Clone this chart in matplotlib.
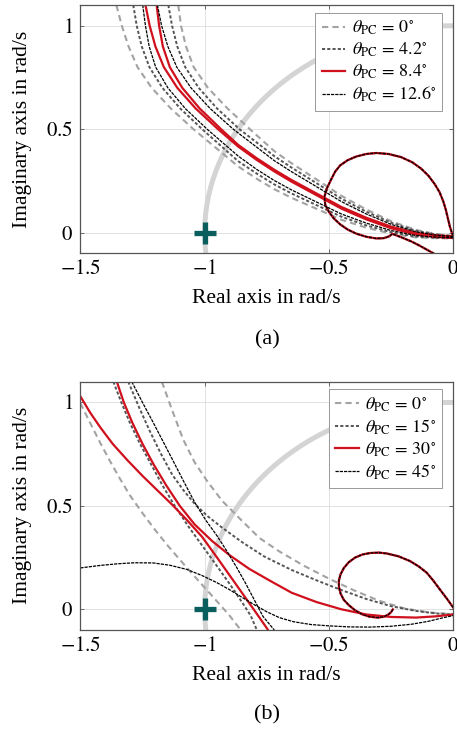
import numpy as np
import matplotlib
matplotlib.use("Agg")
import matplotlib.pyplot as plt

plt.rcParams["font.family"] = ["Liberation Serif", "DejaVu Serif"]
plt.rcParams["mathtext.fontset"] = "stix"

# ---- panel (a): theta_PC = 0, 4.2, 8.4, 12.6 deg ----
labels_a = ["0", "4.2", "8.4", "12.6"]

a0_up_x = [-1.106, -1.095, -1.075, -1.044, -0.987, -0.908, -0.818,
           -0.72, -0.65, -0.55, -0.45, -0.35, -0.25, -0.15, -0.07, 0.0]
a0_up_y = [1.1, 1.0, 0.9, 0.8, 0.7, 0.6, 0.5,
           0.394, 0.335, 0.257, 0.178, 0.112, 0.055, 0.013, -0.007, -0.016]
a0_lo_x = [-1.355, -1.333, -1.306, -1.27, -1.213, -1.136, -1.045,
           -0.865, -0.79, -0.72, -0.65, -0.55, -0.45, -0.35, -0.25, -0.15, -0.07, 0.0]
a0_lo_y = [1.1, 1.0, 0.9, 0.8, 0.7, 0.6, 0.5,
           0.32, 0.26, 0.21, 0.168, 0.115, 0.062, 0.024, -0.005, -0.023, -0.027, -0.028]

a1_up_x = [-1.146, -1.131, -1.11, -1.078, -1.024, -0.95, -0.86,
           -0.72, -0.65, -0.55, -0.45, -0.35, -0.25, -0.15, -0.07, 0.0]
a1_up_y = [1.1, 1.0, 0.9, 0.8, 0.7, 0.6, 0.5,
           0.37, 0.314, 0.239, 0.164, 0.101, 0.048, 0.009, -0.009, -0.018]
a1_lo_x = [-1.287, -1.273, -1.253, -1.222, -1.17, -1.098, -1.01,
           -0.865, -0.79, -0.72, -0.65, -0.55, -0.45, -0.35, -0.25, -0.15, -0.07, 0.0]
a1_lo_y = [1.1, 1.0, 0.9, 0.8, 0.7, 0.6, 0.5,
           0.345, 0.285, 0.233, 0.189, 0.133, 0.077, 0.035, 0.002, -0.019, -0.025, -0.026]

a2_up_x = [-1.193, -1.183, -1.168, -1.14, -1.09, -1.02, -0.934,
           -0.865, -0.79, -0.72, -0.65, -0.55, -0.45, -0.35, -0.25, -0.15, -0.07, 0.0]
a2_up_y = [1.1, 1.0, 0.9, 0.8, 0.7, 0.6, 0.5,
           0.424, 0.359, 0.304, 0.254, 0.189, 0.124, 0.072, 0.029, -0.001, -0.013, -0.018]
a2_lo_x = [-1.238, -1.221, -1.198, -1.164, -1.11, -1.036, -0.946,
           -0.865, -0.79, -0.72, -0.65, -0.55, -0.45, -0.35, -0.25, -0.15, -0.07, 0.0]
a2_lo_y = [1.1, 1.0, 0.9, 0.8, 0.7, 0.6, 0.5,
           0.416, 0.351, 0.296, 0.246, 0.181, 0.116, 0.064, 0.021, -0.009, -0.021, -0.026]

a3_up_x = [-1.19, -1.173, -1.148, -1.112, -1.055, -0.978, -0.885,
           -0.72, -0.65, -0.55, -0.45, -0.35, -0.25, -0.15, -0.07, 0.0]
a3_up_y = [1.1, 1.0, 0.9, 0.8, 0.7, 0.6, 0.5,
           0.348, 0.294, 0.222, 0.15, 0.09, 0.04, 0.004, -0.012, -0.019]
a3_lo_x = [-1.249, -1.238, -1.223, -1.197, -1.148, -1.078, -0.99,
           -0.865, -0.79, -0.72, -0.65, -0.55, -0.45, -0.35, -0.25, -0.15, -0.07, 0.0]
a3_lo_y = [1.1, 1.0, 0.9, 0.8, 0.7, 0.6, 0.5,
           0.37, 0.305, 0.252, 0.206, 0.148, 0.09, 0.046, 0.01, -0.014, -0.022, -0.025]

loop_a_x = [0.0, -0.006, -0.014, -0.022, -0.03, -0.04, -0.055, -0.075, -0.1, -0.13,
            -0.165, -0.21, -0.26, -0.31, -0.35, -0.39, -0.425, -0.455, -0.475, -0.49,
            -0.508, -0.518, -0.515, -0.5, -0.48, -0.455, -0.425, -0.39, -0.35, -0.31,
            -0.28, -0.258, -0.245, -0.225, -0.2, -0.17, -0.14, -0.11, -0.08]
loop_a_y = [-0.016, 0.0, 0.03, 0.07, 0.11, 0.15, 0.195, 0.235, 0.275, 0.31,
            0.34, 0.365, 0.38, 0.385, 0.38, 0.368, 0.35, 0.325, 0.295, 0.26,
            0.215, 0.175, 0.135, 0.1, 0.068, 0.04, 0.015, -0.005, -0.02, -0.028,
            -0.027, -0.018, -0.006, -0.015, -0.027, -0.042, -0.06, -0.08, -0.1]

# ---- panel (b): theta_PC = 0, 15, 30, 45 deg ----
labels_b = ["0", "15", "30", "45"]

b0_up_x = [-1.172, -1.13, -1.086, -1.04, -0.99, -0.93, -0.86, -0.78, -0.7, -0.6,
           -0.5, -0.4, -0.3, -0.2, -0.1, 0.0]
b0_up_y = [1.1, 0.96, 0.82, 0.71, 0.62, 0.525, 0.44, 0.345, 0.28, 0.21,
           0.148, 0.092, 0.042, 0.005, -0.015, -0.024]
b0_lo_x = [-1.5, -1.46, -1.42, -1.38, -1.34, -1.3, -1.25, -1.2, -1.15, -1.1,
           -1.05, -1.0, -0.95, -0.9, -0.855]
b0_lo_y = [0.997, 0.9, 0.805, 0.715, 0.63, 0.55, 0.465, 0.385, 0.31, 0.24,
           0.172, 0.105, 0.038, -0.03, -0.1]

b1_up_x = [-1.307, -1.265, -1.22, -1.175, -1.13, -1.085, -1.04, -0.99, -0.93, -0.85,
           -0.76, -0.65, -0.55, -0.45, -0.35, -0.25, -0.15, -0.07, 0.0]
b1_up_y = [1.1, 0.98, 0.86, 0.75, 0.65, 0.575, 0.51, 0.452, 0.395, 0.325,
           0.255, 0.19, 0.14, 0.093, 0.05, 0.015, -0.008, -0.02, -0.025]
b1_lo_x = [-1.367, -1.335, -1.3, -1.26, -1.215, -1.17, -1.12, -1.065, -1.005, -0.945,
           -0.895, -0.85, -0.815, -0.79]
b1_lo_y = [1.1, 1.0, 0.9, 0.8, 0.7, 0.6, 0.5, 0.4, 0.3, 0.2,
           0.115, 0.035, -0.03, -0.1]

b2_up_x = [-1.353, -1.325, -1.29, -1.25, -1.205, -1.155, -1.1, -1.04, -0.97, -0.898,
           -0.82, -0.74, -0.65, -0.55, -0.45, -0.35, -0.25, -0.15, -0.07, 0.0]
b2_up_y = [1.1, 1.0, 0.9, 0.8, 0.7, 0.6, 0.5, 0.41, 0.33, 0.26,
           0.195, 0.14, 0.08, 0.035, 0.0, -0.025, -0.037, -0.04, -0.034, -0.025]
b2_lo_x = [-1.5, -1.46, -1.42, -1.37, -1.31, -1.25, -1.19, -1.13, -1.07, -1.01,
           -0.95, -0.9, -0.85, -0.8, -0.765, -0.745]
b2_lo_y = [1.03, 0.95, 0.88, 0.8, 0.72, 0.645, 0.575, 0.505, 0.43, 0.35,
           0.25, 0.165, 0.08, -0.005, -0.065, -0.1]

b3_up_x = [-1.293, -1.25, -1.21, -1.171, -1.13, -1.085, -1.039, -0.995, -0.95, -0.91,
           -0.87, -0.835, -0.8, -0.765, -0.72]
b3_up_y = [1.1, 1.0, 0.91, 0.82, 0.725, 0.62, 0.515, 0.43, 0.355, 0.28,
           0.2, 0.125, 0.045, -0.035, -0.1]
b3_lo_x = [-1.5, -1.42, -1.35, -1.28, -1.206, -1.14, -1.072, -1.01, -0.951, -0.9,
           -0.858, -0.8, -0.75, -0.7, -0.643, -0.57, -0.5, -0.42, -0.335, -0.25,
           -0.167, -0.1, -0.045, 0.0]
b3_lo_y = [0.2, 0.212, 0.22, 0.225, 0.224, 0.213, 0.193, 0.163, 0.129, 0.095,
           0.064, 0.022, -0.012, -0.04, -0.06, -0.074, -0.08, -0.085, -0.086, -0.082,
           -0.072, -0.058, -0.042, -0.03]

loop_b_x = [0.0, -0.025, -0.054, -0.08, -0.107, -0.14, -0.174, -0.22, -0.268, -0.3,
            -0.335, -0.365, -0.395, -0.42, -0.44, -0.453, -0.46, -0.46, -0.453, -0.44,
            -0.42, -0.395, -0.365, -0.335, -0.305, -0.28, -0.262, -0.25, -0.243]
loop_b_y = [0.008, 0.05, 0.096, 0.138, 0.177, 0.208, 0.233, 0.256, 0.27, 0.274,
            0.272, 0.265, 0.25, 0.228, 0.2, 0.17, 0.14, 0.108, 0.075, 0.045,
            0.02, -0.005, -0.025, -0.036, -0.04, -0.036, -0.026, -0.014, 0.0]

styles = [
    dict(color="#a3a3a3", lw=1.5, dashes=(3, 2)),
    dict(color="#555555", lw=1.4, dashes=(1.6, 1.1)),
    dict(color="#d0101c", lw=1.6),
    dict(color="black", lw=0.9, dashes=(2.6, 0.8)),
]


def draw_panel(ax, curves, loop_x, loop_y, labels, leg_top):
    # unit circle reference
    ang = np.linspace(np.pi / 2, np.pi + 0.101, 200)
    ax.plot(np.cos(ang), np.sin(ang), color="#d4d4d4", lw=3.6, solid_capstyle="butt", zorder=1)

    for (up_x, up_y, lo_x, lo_y), st, lab in zip(curves, styles, labels):
        ax.plot(up_x, up_y, zorder=2, **st, label=r"$\theta_{\mathrm{PC}}\,=\,%s^{\circ}$" % lab)
        ax.plot(lo_x, lo_y, zorder=2, **st)
        ax.plot(loop_x, loop_y, zorder=2, **st)

    ax.plot([-1], [0], marker="+", ms=16, mew=3.8, color="#0b5e5e", zorder=5)

    ax.set_xlim(-1.5, 0)
    ax.set_ylim(-0.1, 1.1)
    ax.set_xticks([-1.5, -1, -0.5, 0])
    ax.set_xticklabels([r"$-1.5$", r"$-1$", r"$-0.5$", r"$0$"])
    ax.set_yticks([0, 0.5, 1])
    ax.set_yticklabels([r"$0$", r"$0.5$", r"$1$"])
    ax.grid(True, color="#dddddd", lw=0.6)
    ax.set_axisbelow(True)
    ax.tick_params(direction="in", length=3, width=0.6, top=True, right=True,
                   color="#555555", labelsize=15, pad=5)
    for s in ax.spines.values():
        s.set_color("#555555")
        s.set_linewidth(0.9)
    ax.set_xlabel("Real axis in rad/s", fontsize=15.5, labelpad=7)
    ax.set_ylabel("Imaginary axis in rad/s", fontsize=15.5, labelpad=10.5)
    leg = ax.legend(loc="upper right", bbox_to_anchor=(0.9705, leg_top), borderaxespad=0,
                    fontsize=13, frameon=True, fancybox=False,
                    framealpha=1, edgecolor="#999999", handlelength=1.3,
                    handletextpad=0.35, borderpad=0.35, labelspacing=0.2)
    leg.get_frame().set_linewidth(0.7)


fig = plt.figure(figsize=(4.57, 7.30), dpi=100)
ax_a = fig.add_axes([0.1757, 0.653, 0.8162, 0.3401])
ax_b = fig.add_axes([0.1757, 0.137, 0.8162, 0.3401])

curves_a = [(a0_up_x, a0_up_y, a0_lo_x, a0_lo_y),
            (a1_up_x, a1_up_y, a1_lo_x, a1_lo_y),
            (a2_up_x, a2_up_y, a2_lo_x, a2_lo_y),
            (a3_up_x, a3_up_y, a3_lo_x, a3_lo_y)]
curves_b = [(b0_up_x, b0_up_y, b0_lo_x, b0_lo_y),
            (b1_up_x, b1_up_y, b1_lo_x, b1_lo_y),
            (b2_up_x, b2_up_y, b2_lo_x, b2_lo_y),
            (b3_up_x, b3_up_y, b3_lo_x, b3_lo_y)]

draw_panel(ax_a, curves_a, loop_a_x, loop_a_y, labels_a, 0.969)
draw_panel(ax_b, curves_b, loop_b_x, loop_b_y, labels_b, 0.9706)

fig.text(0.584, 1 - 340 / 730, "(a)", ha="center", va="center", fontsize=16)
fig.text(0.584, 1 - 715 / 730, "(b)", ha="center", va="center", fontsize=16)

fig.savefig("out.png", dpi=100)
